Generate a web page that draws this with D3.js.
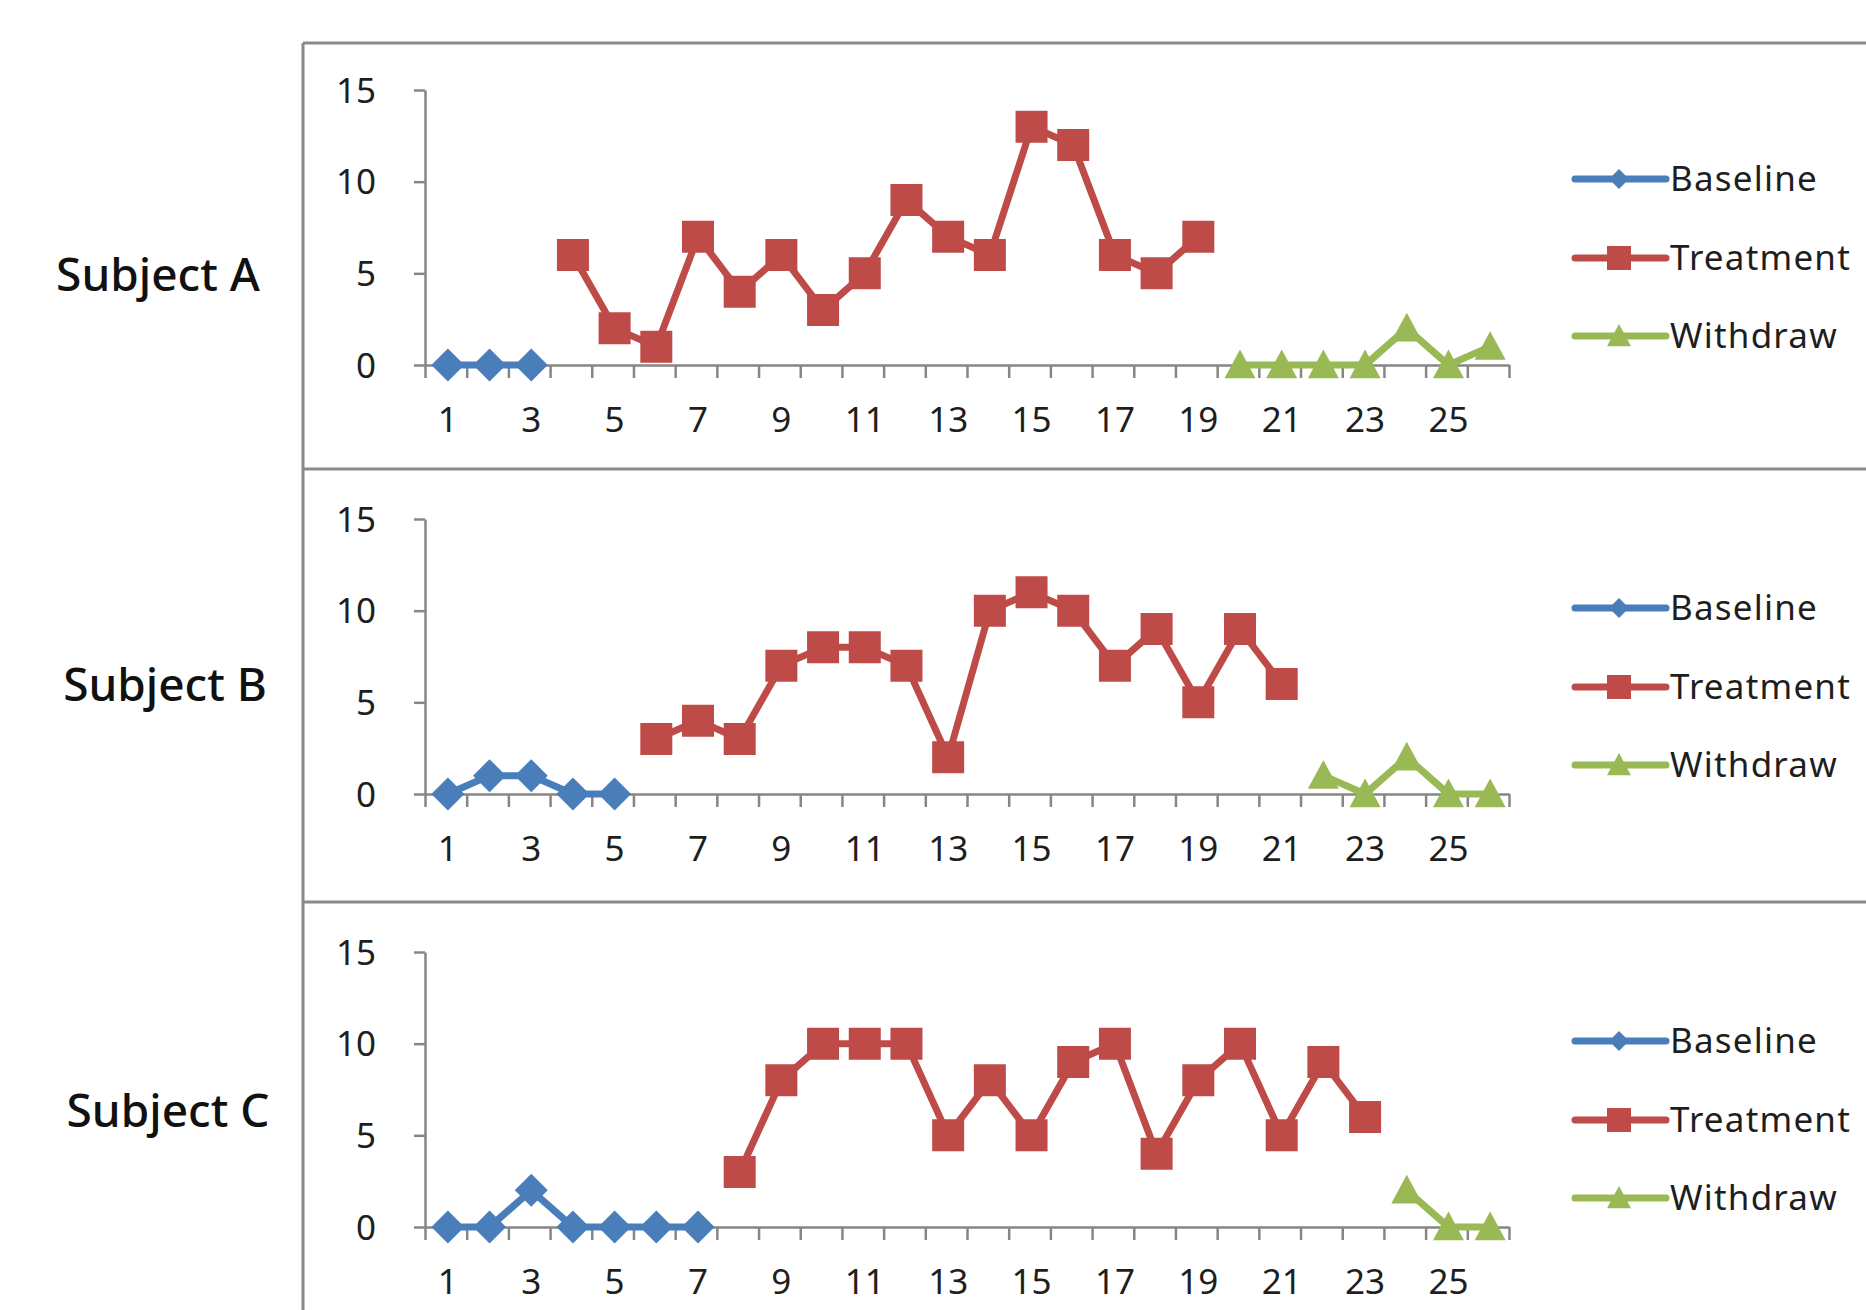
<!DOCTYPE html>
<html>
<head>
<meta charset="utf-8">
<script src="https://cdn.jsdelivr.net/npm/d3@7"></script>
<style>
  html, body { margin: 0; padding: 0; background: #fff; }
  svg { display: block; }
</style>
</head>
<body>
<svg id="chart" width="1866" height="1310"></svg>
<script>
// ---------- DATA ----------
const sessions = [1,2,3,4,5,6,7,8,9,10,11,12,13,14,15,16,17,18,19,20,21,22,23,24,25,26];
const xTickLabels = [1,3,5,7,9,11,13,15,17,19,21,23,25];
const yTickValues = [0,5,10,15];
const phaseNames = ["Baseline","Treatment","Withdraw"];
const subjectNames = ["Subject A","Subject B","Subject C"];

// Subject A
const baselineA  = [0,0,0];
const treatmentA = [6,2,1,7,4,6,3,5,9,7,6,13,12,6,5,7];
const withdrawA  = [0,0,0,0,2,0,1];
const phaseStartA = [1,4,20];

// Subject B
const baselineB  = [0,1,1,0,0];
const treatmentB = [3,4,3,7,8,8,7,2,10,11,10,7,9,5,9,6];
const withdrawB  = [1,0,2,0,0];
const phaseStartB = [1,6,22];

// Subject C
const baselineC  = [0,0,2,0,0,0,0];
const treatmentC = [3,8,10,10,10,5,8,5,9,10,4,8,10,5,9,6];
const withdrawC  = [2,0,0];
const phaseStartC = [1,8,24];

// ---------- STYLE / LAYOUT ----------
const colors = ["#4a7ebb", "#be4b48", "#98b954"];
const fontFamily = "'Noto Sans', 'Open Sans', sans-serif";

const subjects = [
  { name: subjectNames[0], series: [baselineA, treatmentA, withdrawA], starts: phaseStartA },
  { name: subjectNames[1], series: [baselineB, treatmentB, withdrawB], starts: phaseStartB },
  { name: subjectNames[2], series: [baselineC, treatmentC, withdrawC], starts: phaseStartC }
];

const layout = [
  { zeroY: 365,  labelX: 158, labelY: 273 },
  { zeroY: 794,  labelX: 165, labelY: 683 },
  { zeroY: 1227, labelX: 168, labelY: 1109 }
];
const plotLeft = 425, plotRight = 1509, plotH = 275;

const svg = d3.select("#chart");
svg.append("rect").attr("width", 1866).attr("height", 1310).attr("fill", "#fff");

// frame lines
const frame = svg.append("g").attr("stroke", "#8a8a8a").attr("stroke-width", 3).attr("fill", "none");
frame.append("line").attr("x1", 303).attr("x2", 1866).attr("y1", 43).attr("y2", 43);
frame.append("line").attr("x1", 303).attr("x2", 303).attr("y1", 43).attr("y2", 1310);
frame.append("line").attr("x1", 303).attr("x2", 1866).attr("y1", 469).attr("y2", 469);
frame.append("line").attr("x1", 303).attr("x2", 1866).attr("y1", 902).attr("y2", 902);

const x = d3.scaleBand().domain(sessions).range([plotLeft, plotRight]).padding(0);
const edge = d3.scaleLinear().domain([0, sessions.length]).range([plotLeft, plotRight]);

function markerPath(shape, s) {
  const h = s / 2;
  if (shape === 0) return `M0,${-h}L${h},0L0,${h}L${-h},0Z`;
  if (shape === 1) return `M${-h},${-h}H${h}V${h}H${-h}Z`;
  return `M0,${-h}L${h},${h * 0.85}L${-h},${h * 0.85}Z`;
}
const markerSize = [33, 32, 31];
const legendMarkerSize = [20, 24, 24];

subjects.forEach((subj, i) => {
  const L = layout[i];
  const y = d3.scaleLinear().domain([0, 15]).range([L.zeroY, L.zeroY - plotH]);
  const g = svg.append("g");

  // subject label
  svg.append("text")
    .attr("x", L.labelX).attr("y", L.labelY)
    .attr("text-anchor", "middle").attr("dominant-baseline", "central")
    .attr("font-family", fontFamily).attr("font-size", 46).attr("font-weight", 500)
    .attr("fill", "#111")
    .text(subj.name);

  // y axis
  const yAxis = g.append("g").attr("transform", `translate(${plotLeft},0)`)
    .call(d3.axisLeft(y).tickValues(yTickValues).tickSize(11).tickSizeOuter(0).tickPadding(38));
  yAxis.select(".domain").attr("stroke", "#868686").attr("stroke-width", 2.5);
  yAxis.selectAll(".tick line").attr("stroke", "#868686").attr("stroke-width", 2.5);
  yAxis.selectAll("text").attr("font-family", fontFamily).attr("font-size", 35)
    .attr("fill", "#1e1e1e").attr("dy", "0.35em");

  // x axis: boundary ticks
  const xTicksAxis = g.append("g").attr("transform", `translate(0,${L.zeroY})`)
    .call(d3.axisBottom(edge).tickValues(d3.range(0, sessions.length + 1)).tickSize(13).tickSizeOuter(0).tickFormat(""));
  xTicksAxis.select(".domain").attr("stroke", "#868686").attr("stroke-width", 2.5);
  xTicksAxis.selectAll(".tick line").attr("stroke", "#868686").attr("stroke-width", 2.5);

  // x axis: labels (band axis centres ticks on each band)
  const xLab = g.append("g").attr("transform", `translate(2,${L.zeroY})`)
    .call(d3.axisBottom(x).tickValues(xTickLabels).tickSize(0));
  xLab.select(".domain").remove();
  xLab.selectAll("text").attr("font-family", fontFamily).attr("font-size", 35)
    .attr("fill", "#1e1e1e").attr("y", 55).attr("dy", "0.35em");

  // series
  subj.series.forEach((vals, p) => {
    const pts = vals.map((v, k) => ({ s: subj.starts[p] + k, v }));
    const line = d3.line().x(d => x(d.s) + x.bandwidth() / 2 + 2).y(d => y(d.v));
    g.append("path").datum(pts).attr("d", line)
      .attr("fill", "none").attr("stroke", colors[p]).attr("stroke-width", 7)
      .attr("stroke-linejoin", "round");
    g.selectAll(null).data(pts).enter().append("path")
      .attr("transform", d => `translate(${x(d.s) + x.bandwidth() / 2 + 2},${y(d.v)})`)
      .attr("d", markerPath(p, markerSize[p]))
      .attr("fill", colors[p]);
  });

  // legend
  const legendOffsets = [-186, -107, -29];
  phaseNames.forEach((name, p) => {
    const ly = L.zeroY + legendOffsets[p];
    const lg = svg.append("g");
    lg.append("line").attr("x1", 1575).attr("x2", 1666).attr("y1", ly).attr("y2", ly)
      .attr("stroke", colors[p]).attr("stroke-width", 7).attr("stroke-linecap", "round");
    lg.append("path").attr("transform", `translate(1619,${ly})`)
      .attr("d", markerPath(p, legendMarkerSize[p])).attr("fill", colors[p]);
    lg.append("text").attr("x", 1670).attr("y", ly).attr("dy", "0.35em")
      .attr("font-family", fontFamily).attr("font-size", 35).attr("letter-spacing", 1.2)
      .attr("fill", "#1e1e1e").text(name);
  });
});
</script>
</body>
</html>
